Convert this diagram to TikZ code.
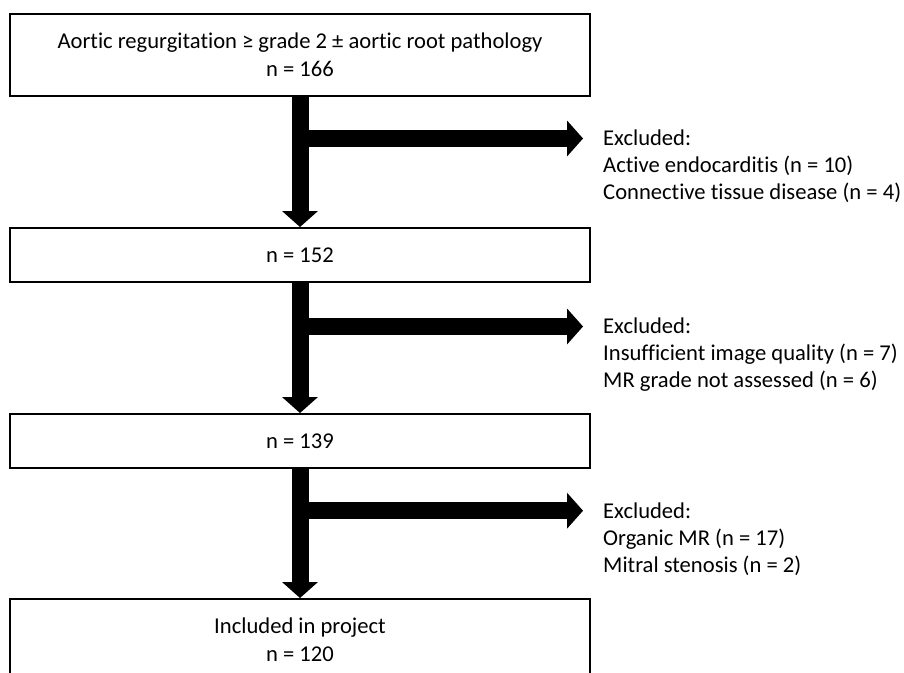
\documentclass[tikz,border=0pt]{standalone}
\usepackage{fontspec}
\setmainfont{Carlito}[Ligatures=NoCommon]
\usetikzlibrary{arrows.meta, positioning}

\begin{document}
\begin{tikzpicture}[x=1pt, y=1pt]

    \tikzstyle{flowbox} = [rectangle, minimum width=580pt, minimum height=54pt, text centered, align=center, draw=black, line width=2pt, fill=white, inner sep=0pt, font=\fontsize{22.6pt}{28pt}\selectfont]
    \tikzstyle{excluded} = [align=left, inner sep=0pt, font=\fontsize{22.6pt}{27pt}\selectfont]
    \tikzstyle{fatarrow} = [line width=17pt, -{Triangle[length=16pt, width=36pt, line width=0pt]}]

    \useasboundingbox[fill=white] (0,0) rectangle (904,-672);

    % Nodes
    \node (start) [flowbox, minimum height=82pt] at (300,-55) {Aortic regurgitation ≥ grade 2 ± aortic root pathology\\n = 166};
    \node (step1) [flowbox, below=130pt of start] {n = 152};
    \node (step2) [flowbox, below=130pt of step1] {n = 139};
    \node (final) [flowbox, minimum height=82pt, below=129pt of step2] {Included in project\\n = 120};

    % Exclusions
    \coordinate (tip1) at (583,-138.5);
    \coordinate (tip2) at (583,-326.5);
    \coordinate (tip3) at (583,-510.7);
    \coordinate (fork1) at (start.south |- tip1);
    \coordinate (fork2) at (step1.south |- tip2);
    \coordinate (fork3) at (step2.south |- tip3);
    \node (excl1) [excluded, right=20pt of tip1, anchor=north west, yshift=8.6pt] {Excluded:\\Active endocarditis (n = 10)\\Connective tissue disease (n = 4)};
    \node (excl2) [excluded, right=20pt of tip2, anchor=north west, yshift=8.6pt] {Excluded:\\Insufficient image quality (n = 7)\\MR grade not assessed (n = 6)};
    \node (excl3) [excluded, right=20pt of tip3, anchor=north west, yshift=8.6pt] {Excluded:\\Organic MR (n = 17)\\Mitral stenosis (n = 2)};

    % Arrows
    \draw [fatarrow] (start) -- (step1);
    \draw [fatarrow] (step1) -- (step2);
    \draw [fatarrow] (step2) -- (final);
    \draw [fatarrow] (fork1) -- (tip1);
    \draw [fatarrow] (fork2) -- (tip2);
    \draw [fatarrow] (fork3) -- (tip3);
\end{tikzpicture}
\end{document}
